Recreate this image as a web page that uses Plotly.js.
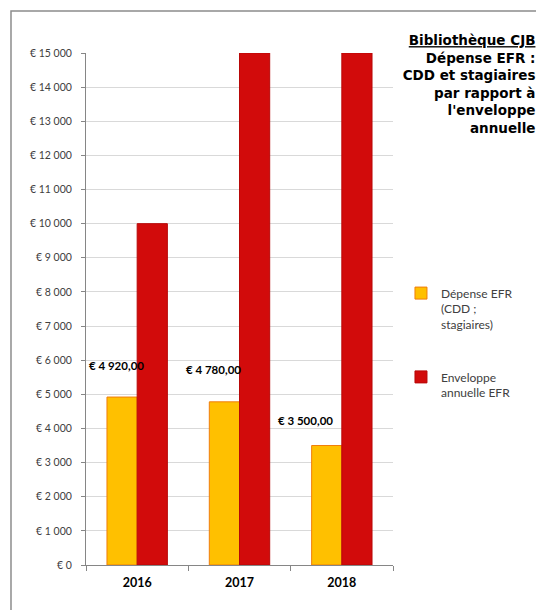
<!DOCTYPE html>
<html>
<head>
<meta charset="utf-8">
<script src="https://cdn.plot.ly/plotly-3.0.1.min.js"></script>
<style>
html,body{margin:0;padding:0;background:#fff;overflow:hidden;}
#chart{width:536px;height:610px;}
</style>
</head>
<body>
<div id="chart"></div>
<script>
var years = ['2016', '2017', '2018'];
var depenseName = 'Dépense EFR<br>(CDD ;<br>stagiaires)';
var enveloppeName = 'Enveloppe<br>annuelle EFR';
var depense = [4920, 4780, 3500];
var enveloppe = [10000, 15000, 15000];
var titleLines = ['<u>Bibliothèque CJB</u>', 'Dépense EFR :', 'CDD et stagiaires', 'par rapport à', "l'enveloppe", 'annuelle'];

function fmtEuro(v) {
  var s = Math.round(v).toString().replace(/\B(?=(\d{3})+(?!\d))/g, ' ');
  return '€ ' + s + ',00';
}

// label offsets (pixels) relative to category center / bar top
var labelShiftX = [-21, -26, -36];
var labelShiftY = [32, 32, 25];

var font = 'Lato, "Open Sans", sans-serif';
var titleFont = '"DejaVu Sans", "Open Sans", sans-serif';

var traces = [
  {
    type: 'bar', x: years, y: depense, name: depenseName, legendgroup: 'a',
    marker: {color: '#FFC000', line: {color: '#F07D0A', width: 1}},
    hoverinfo: 'none'
  },
  {
    type: 'bar', x: years, y: enveloppe, name: enveloppeName, legendgroup: 'b',
    marker: {color: '#D20B0B', line: {color: '#B80808', width: 1}},
    hoverinfo: 'none'
  }
];

var annotations = depense.map(function (v, i) {
  return {
    xref: 'x', yref: 'y', x: i, y: v,
    text: '<b>' + fmtEuro(v) + '</b>',
    showarrow: false, xanchor: 'center', yanchor: 'middle',
    xshift: labelShiftX[i], yshift: labelShiftY[i],
    font: {family: font, size: 11.5, color: '#000'}
  };
});

var layout = {
  width: 536, height: 610,
  margin: {l: 86, r: 143, t: 53, b: 45},
  paper_bgcolor: '#fff', plot_bgcolor: '#fff',
  separators: ', ',
  barmode: 'group', bargap: 0.41, bargroupgap: 0,
  font: {family: font, size: 11, color: '#404040'},
  title: {
    text: '<b>' + titleLines.join('<br>') + '</b>',
    xref: 'container', yref: 'container',
    x: 0.999, xanchor: 'right', y: 0.926, yanchor: 'top',
    font: {family: titleFont, size: 13.5, color: '#000'}
  },
  xaxis: {
    type: 'category', tickson: 'boundaries', ticks: 'outside', ticklen: 5,
    tickcolor: '#868686', showline: true, linecolor: '#868686', linewidth: 1,
    showgrid: false, ticklabelstandoff: 6,
    tickfont: {family: font, size: 12.5, color: '#000', weight: 'bold'},
    fixedrange: true
  },
  yaxis: {
    range: [0, 15000], dtick: 1000, tick0: 0, tickformat: ',d', tickprefix: '€ ',
    ticks: 'outside', ticklen: 4, tickcolor: '#868686',
    showline: true, linecolor: '#868686', linewidth: 1,
    gridcolor: '#D9D9D9', gridwidth: 1, zeroline: false, ticklabelstandoff: 7,
    tickfont: {family: font, size: 10.5, color: '#404040'},
    fixedrange: true
  },
  legend: {
    x: 1.026, xanchor: 'left', y: 0.559, yanchor: 'top',
    valign: 'top', traceorder: 'grouped', tracegroupgap: 34,
    font: {family: font, size: 12, color: '#404040'},
    bgcolor: 'rgba(0,0,0,0)', itemwidth: 30
  },
  annotations: annotations,
  shapes: [{
    type: 'rect', xref: 'paper', yref: 'paper',
    x0: -0.2443, x1: 1.5, y0: -0.2, y1: 1.0820,
    line: {color: '#8C8C8C', width: 1.5}, fillcolor: 'rgba(0,0,0,0)', layer: 'below'
  }],
  showlegend: true
};

Plotly.newPlot('chart', traces, layout, {displayModeBar: false, staticPlot: true});
</script>
</body>
</html>
